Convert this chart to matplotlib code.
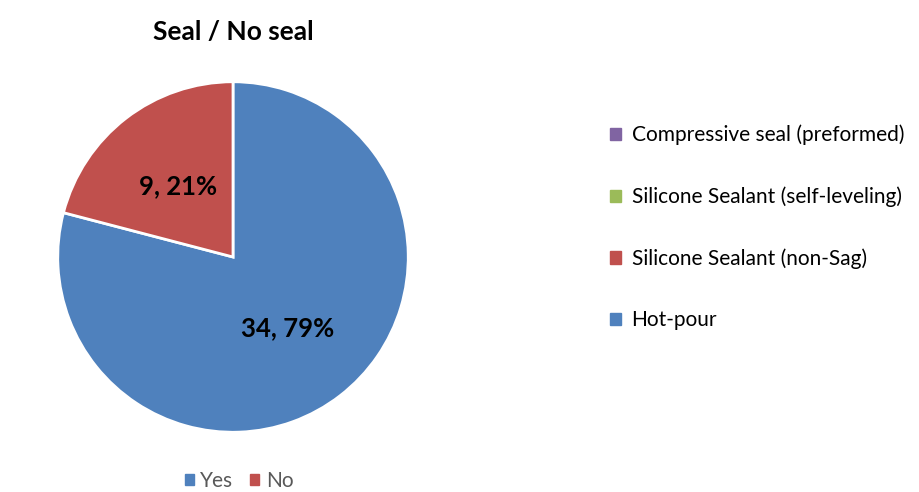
import matplotlib.pyplot as plt
from matplotlib.patches import Patch

# Data
answers = ["Yes", "No"]
counts = [34, 9]
answer_colors = ["#4F81BD", "#C0504D"]

seal_types = ["Compressive seal (preformed)", "Silicone Sealant (self-leveling)",
              "Silicone Sealant (non-Sag)", "Hot-pour"]
seal_colors = ["#8064A2", "#9BBB59", "#C0504D", "#4F81BD"]

plt.rcParams["font.family"] = ["Lato", "DejaVu Sans"]

fig = plt.figure(figsize=(9.2, 4.92), dpi=100)

# pie centred at (233, 257) px, radius 177 px
cx, cy, r = 233, 257, 177
ax = fig.add_axes([(cx - r) / 920, (492 - cy - r) / 492, 2 * r / 920, 2 * r / 492])

total = sum(counts)


def fmt(pct):
    n = int(round(pct * total / 100))
    return f"{n}, {pct:.0f}%"


wedges, texts, autotexts = ax.pie(
    counts, colors=answer_colors, startangle=90, counterclock=False,
    autopct=fmt, pctdistance=0.51,
    wedgeprops=dict(edgecolor="white", linewidth=2),
    textprops=dict(fontsize=18.5, fontweight="bold", color="black"))
ax.set_aspect("equal")
ax.set_xlim(-1.01, 1.01)
ax.set_ylim(-1.01, 1.01)

fig.text(cx / 920, 1 - 32 / 492, "Seal / No seal", ha="center", va="center",
         fontsize=19, fontweight="bold")

# bottom legend
handles = [Patch(color=c, label=a) for a, c in zip(answers, answer_colors)]
fig.legend(handles=handles, loc="center", bbox_to_anchor=(239 / 920, 1 - 481 / 492),
           ncol=2, frameon=False, fontsize=15, handlelength=0.45, handleheight=0.45,
           handletextpad=0.3, columnspacing=0.8, labelcolor="#595959")

# right legend
handles2 = [Patch(color=c, label=s) for s, c in zip(seal_types, seal_colors)]
fig.legend(handles=handles2, loc="upper left", bbox_to_anchor=(591 / 920, 1 - 106 / 492),
           frameon=False, fontsize=15, handlelength=0.55, handleheight=0.55,
           handletextpad=0.5, labelspacing=1.98)

fig.savefig("out.png", dpi=100)
